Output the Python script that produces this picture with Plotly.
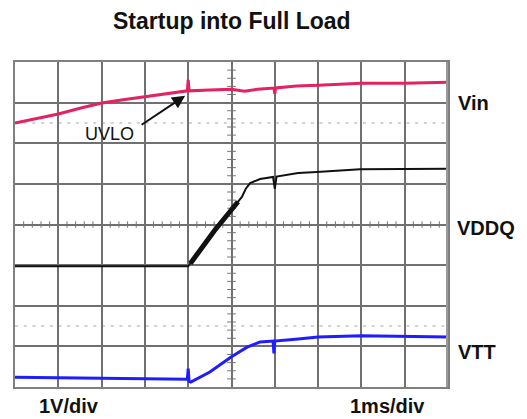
import plotly.graph_objects as go

# Time axis in divisions (1 ms/div), voltage in divisions (1 V/div)
vin_t = [0, 0.5, 1.0, 1.5, 2.0, 2.5, 3.0, 3.5, 3.98, 4.0, 4.02, 4.5, 5.0, 5.3, 5.6, 5.98, 6.0, 6.02, 6.5, 7.0, 8.0, 9.0, 10.0]
vin_v = [6.50, 6.61, 6.72, 6.86, 6.99, 7.07, 7.14, 7.22, 7.29, 7.56, 7.29, 7.31, 7.33, 7.28, 7.33, 7.36, 7.22, 7.36, 7.41, 7.43, 7.48, 7.48, 7.50]

vddq_t = [0, 3.98, 4.0, 4.6, 5.24, 5.33, 5.43, 5.66, 5.96, 6.0, 6.04, 6.54, 6.97, 7.97, 9.0, 10.0]
vddq_v = [2.97, 2.97, 2.97, 3.84, 4.68, 4.88, 5.02, 5.12, 5.17, 4.88, 5.18, 5.27, 5.29, 5.36, 5.37, 5.37]

ramp_t = [4.05, 4.6, 5.15]
ramp_v = [3.04, 3.84, 4.56]

vtt_t = [0, 1.0, 2.0, 3.0, 3.98, 4.0, 4.02, 4.06, 4.5, 4.99, 5.36, 5.66, 5.96, 5.98, 6.0, 6.54, 7.0, 8.0, 9.0, 10.0]
vtt_v = [0.24, 0.23, 0.22, 0.21, 0.19, 0.45, 0.14, 0.12, 0.37, 0.74, 0.98, 1.11, 1.13, 0.83, 1.13, 1.18, 1.23, 1.26, 1.25, 1.23]

uvlo_head = (3.93, 7.17)
uvlo_tail = (2.89, 6.43)
cursor_levels = [6.5, 1.5]

FONT = "Liberation Sans, Arial, sans-serif"

fig = go.Figure()
fig.add_trace(go.Scatter(x=vin_t, y=vin_v, mode="lines", line=dict(color="#e3225f", width=3), hoverinfo="skip"))
fig.add_trace(go.Scatter(x=vddq_t, y=vddq_v, mode="lines", line=dict(color="#111111", width=2), hoverinfo="skip"))
fig.add_trace(go.Scatter(x=ramp_t, y=ramp_v, mode="lines", line=dict(color="#111111", width=5), hoverinfo="skip"))
fig.add_trace(go.Scatter(x=vtt_t, y=vtt_v, mode="lines", line=dict(color="#1d1dff", width=3), hoverinfo="skip"))

shapes = []
# dotted cursor lines
for lv in cursor_levels:
    shapes.append(dict(type="line", xref="x", yref="y", x0=0, x1=10, y0=lv, y1=lv,
                       line=dict(color="#c4c4c4", width=1.5, dash="3px,5.7px"), layer="below"))
# minor ticks on center lines
for i in range(1, 50):
    xv = i * 0.2
    shapes.append(dict(type="line", xref="x", yref="y", x0=xv, x1=xv, y0=3.92, y1=4.08,
                       line=dict(color="#777777", width=1), layer="below"))
for i in range(1, 40):
    yv = i * 0.2
    shapes.append(dict(type="line", xref="x", yref="y", x0=4.9, x1=5.1, y0=yv, y1=yv,
                       line=dict(color="#777777", width=1), layer="below"))
# thick right border
shapes.append(dict(type="line", xref="x", yref="y", x0=10, x1=10, y0=0, y1=8,
                   line=dict(color="#9a9a9a", width=4)))

annotations = [
    dict(text="<b>Startup into Full Load</b>", x=(231.5 - 15) / 433, y=(387 - 21) / 325, xref="paper", yref="paper",
         xanchor="center", yanchor="middle", showarrow=False, font=dict(family=FONT, size=23, color="#111")),
    dict(text="<b>Vin</b>", x=(456 - 15) / 433, y=(387 - 103) / 325, xref="paper", yref="paper",
         xanchor="left", yanchor="middle", showarrow=False, font=dict(family=FONT, size=20, color="#111")),
    dict(text="<b>VDDQ</b>", x=(455 - 15) / 433, y=(387 - 228) / 325, xref="paper", yref="paper",
         xanchor="left", yanchor="middle", showarrow=False, font=dict(family=FONT, size=20, color="#111")),
    dict(text="<b>VTT</b>", x=(456 - 15) / 433, y=(387 - 352) / 325, xref="paper", yref="paper",
         xanchor="left", yanchor="middle", showarrow=False, font=dict(family=FONT, size=20, color="#111")),
    dict(text="<b>1V/div</b>", x=(37 - 15) / 433, y=(387 - 406) / 325, xref="paper", yref="paper",
         xanchor="left", yanchor="middle", showarrow=False, font=dict(family=FONT, size=20, color="#111")),
    dict(text="<b>1ms/div</b>", x=(348 - 15) / 433, y=(387 - 406) / 325, xref="paper", yref="paper",
         xanchor="left", yanchor="middle", showarrow=False, font=dict(family=FONT, size=20, color="#111")),
    dict(text="UVLO", x=2.19, y=6.22, xref="x", yref="y", xanchor="center", yanchor="middle",
         showarrow=False, font=dict(family=FONT, size=18, color="#111")),
    dict(text="", x=uvlo_head[0], y=uvlo_head[1], ax=uvlo_tail[0], ay=uvlo_tail[1],
         xref="x", yref="y", axref="x", ayref="y", showarrow=True, arrowhead=2, arrowsize=1.3,
         arrowwidth=2, arrowcolor="#111"),
]

fig.update_layout(
    width=527, height=419,
    margin=dict(l=15, r=79, t=62, b=32),
    paper_bgcolor="white", plot_bgcolor="white",
    showlegend=False,
    shapes=shapes, annotations=annotations,
    xaxis=dict(range=[0, 10], dtick=1, showgrid=True, gridcolor="#707070", gridwidth=1.5,
               showticklabels=False, ticks="", zeroline=False, showline=True, linecolor="#808080",
               linewidth=2, mirror=True, fixedrange=True),
    yaxis=dict(range=[0, 8], dtick=1, showgrid=True, gridcolor="#707070", gridwidth=1.5,
               showticklabels=False, ticks="", zeroline=False, showline=True, linecolor="#808080",
               linewidth=2, mirror=True, fixedrange=True),
)

fig.write_html("out.html", config={"displayModeBar": False},
               post_script="document.body.style.margin='0px';document.body.style.overflow='hidden';")
